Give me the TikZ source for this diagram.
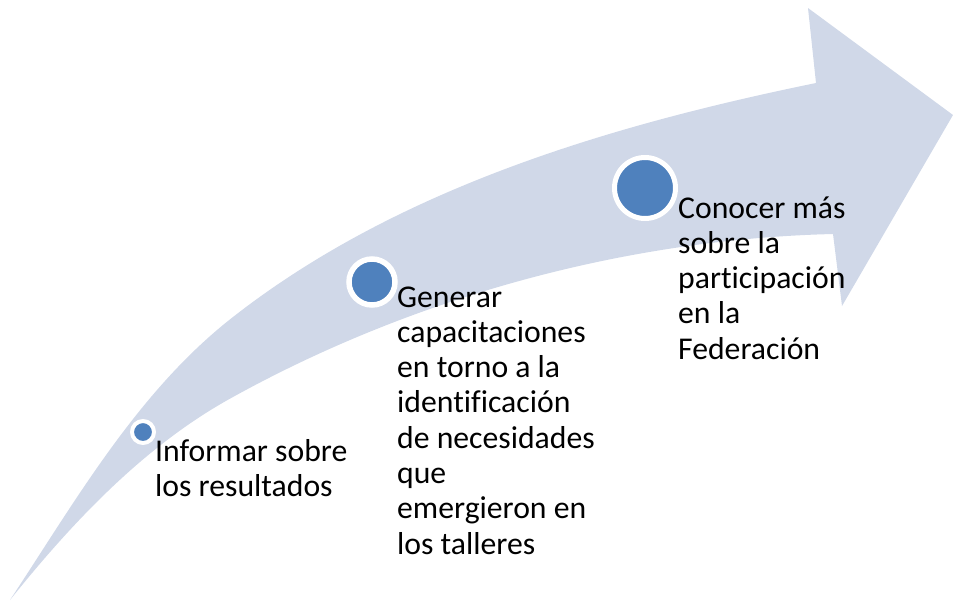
\documentclass[tikz,border=0pt]{standalone}
\usepackage{fontspec}
\setmainfont{Carlito}[Ligatures=NoCommon]
\definecolor{arrowfill}{HTML}{D0D8E8}
\definecolor{dotblue}{HTML}{4F81BD}
\tikzset{
  dot/.style={circle, fill=dotblue, draw=white, inner sep=0pt},
  steptext/.style={anchor=base west, inner sep=0pt, align=left, text width=#1,
    font=\fontsize{31.7}{35.3}\selectfont, text=black,
    execute at begin node={\spaceskip=0.226em\relax\xspaceskip=0.226em\relax}},
}
\begin{document}
\begin{tikzpicture}[x=1pt, y=-1pt]
\useasboundingbox (0,0) rectangle (953,603);
% curved arrow
\fill[arrowfill]
  (10,600) .. controls (76,500) and (138,391) .. (233,317)
  .. controls (398,188) and (611,125) .. (816,83)
  -- (808,8) -- (953,115) -- (842,306) -- (833,234)
  .. controls (626,239) and (414,297) .. (233,397)
  .. controls (145,445) and (72.5,522) .. (10,600)
  -- cycle;
% dots
\node[dot, line width=4pt, minimum size=22pt] (d1) at (143,432) {};
\node[dot, line width=5.5pt, minimum size=46pt] (d2) at (372,282) {};
\node[dot, line width=5pt, minimum size=61pt] (d3) at (645,188) {};
% texts
\node[steptext=200pt] (t1) at (155,461) {Informar sobre\\los resultados};
\node[steptext=210pt] (t2) at (397,307) {Generar\\capacitaciones\\en torno a la\\identificación\\de necesidades\\que\\emergieron en\\los talleres};
\node[steptext=180pt] (t3) at (678,218) {Conocer más\\sobre la\\participación\\en la\\Federación};
\end{tikzpicture}
\end{document}
